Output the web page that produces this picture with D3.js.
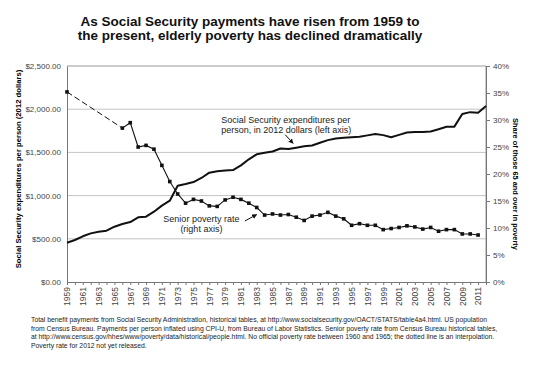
<!DOCTYPE html>
<html lang="en">
<head>
<meta charset="UTF-8">
<title>Social Security and elderly poverty</title>
<script src="https://d3js.org/d3.v7.min.js"></script>
<style>
  body { margin: 0; background: #fff; }
  text { font-family: "Liberation Sans", Arial, Helvetica, sans-serif; }
  .grid line { stroke: #c4c4c4; stroke-width: 1px; }
  .axis path, .axis line { stroke: #777; }
  .axis text { fill: #444; }
</style>
</head>
<body>
<div id="chart"></div>
<script>
// Social Security expenditures per person, 2012 dollars (left axis)
const expYears = d3.range(1959, 2013);
const expValues = [455, 486, 529, 563, 582, 594, 640, 671, 694, 749,
                   756, 814, 884, 941, 1115, 1134, 1157, 1204, 1265, 1283,
                   1290, 1296, 1350, 1420, 1478, 1495, 1510, 1545, 1540, 1555,
                   1570, 1580, 1612, 1642, 1660, 1670, 1676, 1682, 1697, 1712,
                   1700, 1675, 1703, 1730, 1735, 1737, 1742, 1768, 1796, 1798,
                   1945, 1966, 1960, 2037];

// Senior poverty rate, percent (right axis); no data 1960-1965
const povYears = [1959, 1966, 1967, 1968, 1969, 1970, 1971, 1972, 1973, 1974,
                  1975, 1976, 1977, 1978, 1979, 1980, 1981, 1982, 1983, 1984,
                  1985, 1986, 1987, 1988, 1989, 1990, 1991, 1992, 1993, 1994,
                  1995, 1996, 1997, 1998, 1999, 2000, 2001, 2002, 2003, 2004,
                  2005, 2006, 2007, 2008, 2009, 2010, 2011];
const povValues = [35.2, 28.5, 29.5, 25.0, 25.3, 24.6, 21.6, 18.6, 16.3, 14.6,
                   15.3, 15.0, 14.1, 14.0, 15.2, 15.7, 15.3, 14.6, 13.8, 12.4,
                   12.6, 12.4, 12.5, 12.0, 11.4, 12.2, 12.4, 12.9, 12.2, 11.7,
                   10.5, 10.8, 10.5, 10.5, 9.7, 9.9, 10.1, 10.4, 10.2, 9.8,
                   10.1, 9.4, 9.7, 9.7, 8.9, 8.9, 8.7];

const leftTicks = [0, 500, 1000, 1500, 2000, 2500];
const rightTicks = [0, 5, 10, 15, 20, 25, 30, 35, 40];

const titleLines = ["As Social Security payments have risen from 1959 to",
                    "the present, elderly poverty has declined dramatically"];
const noteLines = [
  "Total benefit payments from Social Security Administration, historical tables, at http://www.socialsecurity.gov/OACT/STATS/table4a4.html. US population",
  "from Census Bureau. Payments per person inflated using CPI-U, from Bureau of Labor Statistics. Senior poverty rate from Census Bureau historical tables,",
  "at http://www.census.gov/hhes/www/poverty/data/historical/people.html. No official poverty rate between 1960 and 1965; the dotted line is an interpolation.",
  "Poverty rate for 2012 not yet released."
];

const width = 540, height = 372;
const plot = { left: 67, right: 486, top: 66, bottom: 282 };

const svg = d3.select('#chart').append('svg')
  .attr('width', width)
  .attr('height', height);

const x = d3.scaleLinear().domain([1959, 2012]).range([plot.left, plot.right]);
const yL = d3.scaleLinear().domain([0, 2500]).range([plot.bottom, plot.top]);
const yR = d3.scaleLinear().domain([0, 40]).range([plot.bottom, plot.top]);

// gridlines
svg.append('g').attr('class', 'grid')
  .selectAll('line').data(leftTicks.slice(1, -1)).enter().append('line')
  .attr('x1', plot.left).attr('x2', plot.right)
  .attr('y1', d => yL(d)).attr('y2', d => yL(d));

// plot frame (top + right)
svg.append('path')
  .attr('d', `M${plot.left},${plot.top}H${plot.right}V${plot.bottom}`)
  .attr('fill', 'none').attr('stroke', '#999');

// left axis
const axL = svg.append('g').attr('class', 'axis')
  .attr('transform', `translate(${plot.left},0)`)
  .call(d3.axisLeft(yL).tickValues(leftTicks)
    .tickFormat(d => '$' + d3.format(',.2f')(d)).tickSize(0).tickPadding(6));
axL.select('.domain').attr('stroke', '#555');
axL.selectAll('text').attr('font-size', 8);

// right axis
const axR = svg.append('g').attr('class', 'axis')
  .attr('transform', `translate(${plot.right},0)`)
  .call(d3.axisRight(yR).tickValues(rightTicks)
    .tickFormat(d => d + '%').tickSize(4).tickSizeOuter(0).tickPadding(3));
axR.selectAll('text').attr('font-size', 8);

// bottom axis
const axB = svg.append('g').attr('class', 'axis')
  .attr('transform', `translate(0,${plot.bottom})`)
  .call(d3.axisBottom(x).tickValues(expYears)
    .tickFormat(d => (d - 1959) % 2 === 0 ? String(d) : '')
    .tickSize(3).tickSizeOuter(0));
axB.select('.domain').attr('stroke', '#555');
axB.selectAll('text')
  .attr('font-size', 8.5)
  .attr('transform', 'rotate(-90)')
  .attr('x', -5).attr('y', 0).attr('dy', '0.33em')
  .style('text-anchor', 'end');

// axis titles
svg.append('text')
  .attr('transform', `translate(21,${(plot.top + plot.bottom) / 2 - 5}) rotate(-90)`)
  .attr('text-anchor', 'middle').attr('font-size', 7.7).attr('font-weight', 'bold')
  .text('Social Security expenditures per person (2012 dollars)');
svg.append('text')
  .attr('transform', `translate(512.5,184) rotate(90)`)
  .attr('text-anchor', 'middle').attr('font-size', 7.4).attr('font-weight', 'bold')
  .text('Share of those 65 and over in poverty');

// expenditure line
const expData = expYears.map((d, i) => ({ year: d, value: expValues[i] }));
svg.append('path').datum(expData)
  .attr('fill', 'none').attr('stroke', '#111').attr('stroke-width', 2)
  .attr('stroke-linejoin', 'round')
  .attr('d', d3.line().x(d => x(d.year)).y(d => yL(d.value)));

// poverty line: dashed interpolation 1959-1966, solid after
const povData = povYears.map((d, i) => ({ year: d, value: povValues[i] }));
const povLine = d3.line().x(d => x(d.year)).y(d => yR(d.value));
svg.append('path').datum(povData.slice(0, 2))
  .attr('fill', 'none').attr('stroke', '#111').attr('stroke-width', 1)
  .attr('stroke-dasharray', '6,3')
  .attr('d', povLine);
svg.append('path').datum(povData.slice(1))
  .attr('fill', 'none').attr('stroke', '#111').attr('stroke-width', 1.1)
  .attr('d', povLine);
svg.append('g').selectAll('rect').data(povData).enter().append('rect')
  .attr('x', d => x(d.year) - 1.8).attr('y', d => yR(d.value) - 1.8)
  .attr('width', 3.6).attr('height', 3.6).attr('fill', '#111');

// annotations
svg.append('defs').append('marker')
  .attr('id', 'arrow').attr('viewBox', '0 0 10 10')
  .attr('refX', 9).attr('refY', 5)
  .attr('markerWidth', 5).attr('markerHeight', 5)
  .attr('orient', 'auto')
  .append('path').attr('d', 'M0,0L10,5L0,10z').attr('fill', '#111');

const expLabel = svg.append('text').attr('font-size', 9).attr('fill', '#222');
expLabel.append('tspan').attr('x', x(1978.5)).attr('y', yL(1840)).text('Social Security expenditures per');
expLabel.append('tspan').attr('x', x(1978.5)).attr('y', yL(1840) + 10).text('person, in 2012 dollars (left axis)');
svg.append('line')
  .attr('x1', x(1986.6)).attr('y1', yL(1705))
  .attr('x2', x(1987.6)).attr('y2', yL(1605))
  .attr('stroke', '#111').attr('stroke-width', 1).attr('marker-end', 'url(#arrow)');

const povLabel = svg.append('text').attr('font-size', 9).attr('fill', '#222')
  .attr('text-anchor', 'middle');
povLabel.append('tspan').attr('x', x(1976)).attr('y', yR(11.05)).text('Senior poverty rate');
povLabel.append('tspan').attr('x', x(1976)).attr('y', yR(11.05) + 10).text('(right axis)');
svg.append('line')
  .attr('x1', x(1981.5)).attr('y1', yR(11.3))
  .attr('x2', x(1983)).attr('y2', yR(12.5))
  .attr('stroke', '#111').attr('stroke-width', 1).attr('marker-end', 'url(#arrow)');

// title
svg.append('g').selectAll('text').data(titleLines).enter().append('text')
  .attr('x', 250).attr('y', (d, i) => 26 + i * 14)
  .attr('text-anchor', 'middle').attr('font-size', 13.5).attr('font-weight', 'bold')
  .attr('fill', '#111')
  .text(d => d);

// footnote
svg.append('g').selectAll('text').data(noteLines).enter().append('text')
  .attr('x', 31).attr('y', (d, i) => 322 + i * 8.5)
  .attr('font-size', 6.8).attr('fill', '#222')
  .text(d => d);
</script>
</body>
</html>
